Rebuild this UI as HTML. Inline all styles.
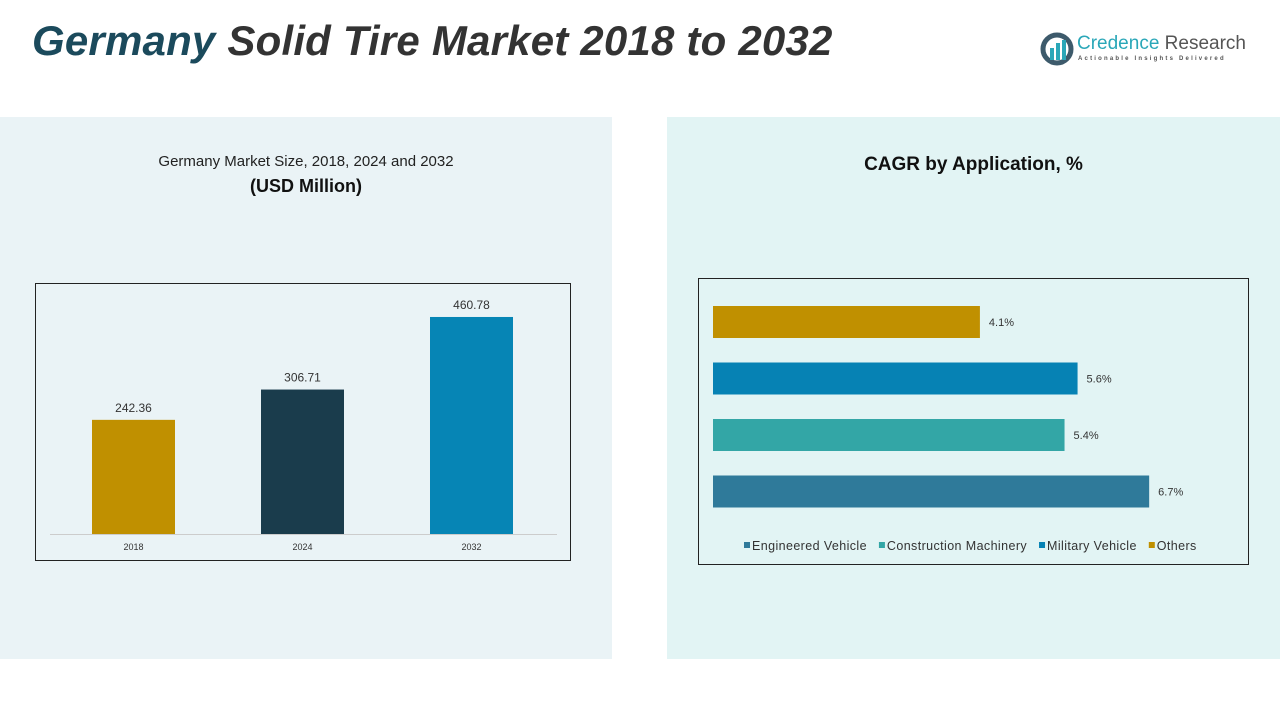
<!DOCTYPE html>
<html><head><meta charset="utf-8"><style>
body{margin:0;width:1280px;height:720px;background:#fff;font-family:"Liberation Sans",sans-serif;position:relative;overflow:hidden}
.abs{position:absolute}
</style></head><body>
<div class="abs" style="left:32px;top:17px;font-size:42px;font-weight:bold;font-style:italic;color:#1b3a4b;letter-spacing:0.2px;white-space:nowrap"><span style="color:#1b4a5c">Germany</span> <span style="color:#333">Solid Tire Market 2018 to 2032</span></div>
<div class="abs" style="left:1040px;top:32px;width:210px;height:40px">
<svg width="34" height="34" style="position:absolute;left:0;top:0"><circle cx="17" cy="17" r="14" fill="none" stroke="#3d5a6b" stroke-width="5"/><rect x="10" y="16" width="4" height="12" fill="#2aa7b8"/><rect x="16" y="11" width="4" height="17" fill="#2aa7b8"/><rect x="22" y="8" width="4" height="20" fill="#2aa7b8"/></svg>
<div style="position:absolute;left:37px;top:1px;font-size:19px;color:#2aa7b8;white-space:nowrap">Credence <span style="color:#555">Research</span></div>
<div style="position:absolute;left:38px;top:24px;font-size:6px;letter-spacing:2.2px;color:#555;white-space:nowrap;font-weight:bold">Actionable Insights Delivered</div>
</div>
<div class="abs" style="left:0;top:117px;width:612px;height:542px;background:#eaf3f6"></div>
<div class="abs" style="left:667px;top:117px;width:613px;height:542px;background:#e2f4f4"></div>
<div class="abs" style="left:0;top:153px;width:612px;text-align:center;font-size:15px;color:#222">Germany Market Size, 2018, 2024 and 2032</div>
<div class="abs" style="left:0;top:176px;width:612px;text-align:center;font-size:18px;font-weight:bold;color:#111">(USD Million)</div>
<div class="abs" style="left:667px;top:154px;width:613px;text-align:center;font-size:19px;font-weight:bold;color:#111">CAGR by Application, %</div>
<svg id="left" class="abs" style="left:0;top:0" width="612" height="660"></svg>
<svg id="right" class="abs" style="left:667px;top:0" width="613" height="660"></svg>
<script>
const years=["2018","2024","2032"];
const sizes=[242.36,306.71,460.78];
const yearColors=["#c09000","#1a3c4c","#0685b5"];
const apps=["Others","Military Vehicle","Construction Machinery","Engineered Vehicle"];
const cagr=[4.1,5.6,5.4,6.7];
const appColors=["#c09000","#0682b4","#33a6a6","#2f7a9a"];
const legendOrder=["Engineered Vehicle","Construction Machinery","Military Vehicle","Others"];
const NS="http://www.w3.org/2000/svg";
function mk(p,t,a){const e=document.createElementNS(NS,t);for(const k in a)e.setAttribute(k,a[k]);p.appendChild(e);return e;}
const L=document.getElementById('left');
const fr=mk(L,'rect',{x:35.5,y:283.5,width:535,height:277,fill:'none',stroke:'#222'});

mk(L,'line',{x1:50,x2:557,y1:534.5,y2:534.5,stroke:'#ccc'});
const base=534,ys=v=>v*0.471,xc=i=>133.5+i*169;
years.forEach((y,i)=>{
 const h=ys(sizes[i]);
 const b=mk(L,'rect',{x:xc(i)-41.5,y:base-h,width:83,height:h,fill:yearColors[i]});
 
 const t=mk(L,'text',{x:xc(i),y:base-h-8,'text-anchor':'middle','font-size':12,fill:'#333'});t.textContent=sizes[i].toFixed(2);
 
 const a=mk(L,'text',{x:xc(i),y:550,'text-anchor':'middle','font-size':9,fill:'#333'});a.textContent=y;
 
});
const R=document.getElementById('right');
const fr2=mk(R,'rect',{x:31.5,y:278.5,width:550,height:286,fill:'none',stroke:'#222'});

const x0=46,xs=v=>v*65.1,yc=i=>322+i*56.5;
apps.forEach((a,i)=>{
 const w=xs(cagr[i]);
 const b=mk(R,'rect',{x:x0,y:yc(i)-16,width:w,height:32,fill:appColors[i]});
 
 const t=mk(R,'text',{x:x0+w+9,y:yc(i)+4,'font-size':11,fill:'#333'});t.textContent=cagr[i].toFixed(1)+'%';
 
});
let lx=77;
legendOrder.forEach(n=>{
 const c=appColors[apps.indexOf(n)];
 const g=mk(R,'g',{});
 
 mk(g,'rect',{x:lx,y:542,width:6,height:6,fill:c});
 const t=mk(g,'text',{x:lx+8,y:550,'font-size':12.5,fill:'#333','letter-spacing':'0.4'});t.textContent=n;
 lx+=8+t.getComputedTextLength()+12;
});
</script>
</body></html>
